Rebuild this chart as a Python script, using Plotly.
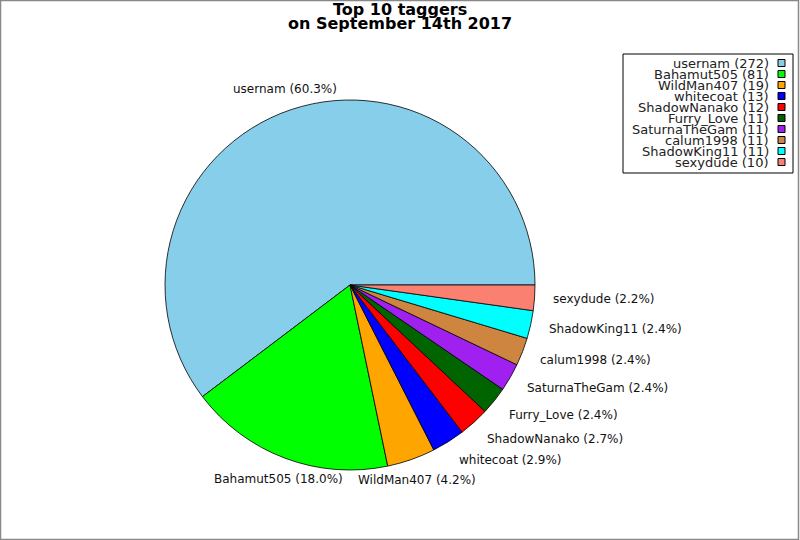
import math
import plotly.graph_objects as go

names = ["usernam", "Bahamut505", "WildMan407", "whitecoat", "ShadowNanako",
         "Furry_Love", "SaturnaTheGam", "calum1998", "ShadowKing11", "sexydude"]
counts = [272, 81, 19, 13, 12, 11, 11, 11, 11, 10]
colors = ["#87CEEB", "#00FF00", "#FFA500", "#0000FF", "#FF0000",
          "#006400", "#A020F0", "#CD853F", "#00FFFF", "#FA8072"]
title_lines = ["Top 10 taggers", "on September 14th 2017"]

W, H = 800, 540
cx, cy, r = 350, 285, 185

total = sum(counts)
# plotly puts the first slice clockwise of `rotation` when direction is counterclockwise;
# shift so the first slice starts at 3 o'clock and runs counterclockwise
rot = 90 - 360 * counts[0] / total

fig = go.Figure()
fig.add_trace(go.Pie(
    labels=names, values=counts, sort=False, direction="counterclockwise",
    rotation=rot,
    marker=dict(colors=colors, line=dict(color="black", width=0.8)),
    textinfo="none",
    showlegend=False, hoverinfo="label+value+percent",
    domain=dict(x=[(cx - r) / W, (cx + r) / W], y=[(H - cy - r) / H, (H - cy + r) / H]),
))

shapes = [dict(type="rect", xref="paper", yref="paper", x0=0.5 / W, x1=1 - 1.5 / W,
               y0=0.5 / H, y1=1 - 0.5 / H, line=dict(color="#888", width=1.5))]
annotations = []
for line_text, ypix in zip(title_lines, [10.0, 23.5]):
    annotations.append(dict(text="<b>" + line_text + "</b>", xref="paper", yref="paper",
                            x=0.5, y=1 - ypix / H, xanchor="center", yanchor="middle",
                            showarrow=False,
                            font=dict(family="DejaVu Sans", size=16, color="black")))

# slice labels placed outside the pie along each slice's mid-angle
cum = 0.0
for n, c in zip(names, counts):
    mid = (cum + c / 2) / total * 2 * math.pi
    cum += c
    cs, sn = math.cos(mid), math.sin(mid)
    px = cx + 1.09 * r * cs
    py = cy - 1.12 * r * sn
    if abs(cs) < 0.45:
        xa = "center"
        px = cx + 1.10 * r * cs
    else:
        xa = "left" if cs > 0 else "right"
    annotations.append(dict(text=f"{n} ({100 * c / total:.1f}%)", xref="paper", yref="paper",
                            x=px / W, y=1 - py / H, xanchor=xa, yanchor="middle",
                            showarrow=False,
                            font=dict(family="DejaVu Sans", size=12, color="#111")))

# custom legend (text right-aligned, swatch on the right)
lx0, lx1, ly0, ly1 = 623, 793, 54, 173
shapes.append(dict(type="rect", xref="paper", yref="paper", x0=lx0 / W, x1=lx1 / W,
                   y0=1 - ly1 / H, y1=1 - ly0 / H, line=dict(color="black", width=1)))
row0, pitch = 63, 11
for i, (n, c, col) in enumerate(zip(names, counts, colors)):
    yy = row0 + i * pitch
    annotations.append(dict(text=f"{n} ({c})", xref="paper", yref="paper", x=771 / W,
                            y=1 - yy / H, xanchor="right", yanchor="middle", showarrow=False,
                            font=dict(family="DejaVu Sans", size=13, color="#222")))
    shapes.append(dict(type="rect", xref="paper", yref="paper", x0=778 / W, x1=785 / W,
                       y0=1 - (yy + 3.5) / H, y1=1 - (yy - 3.5) / H, fillcolor=col,
                       line=dict(color="black", width=1)))

fig.update_layout(width=W, height=H, margin=dict(l=0, r=0, t=0, b=0),
                  paper_bgcolor="white", plot_bgcolor="white",
                  shapes=shapes, annotations=annotations)
fig.write_html("out.html", config={"displayModeBar": False},
               post_script="document.body.style.margin='0';")
